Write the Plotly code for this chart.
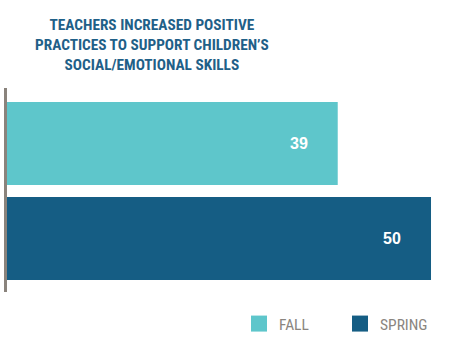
import plotly.graph_objects as go

categories = ["FALL", "SPRING"]
values = [39, 50]
colors = ["#5ec6cb", "#155d84"]
title_lines = ["TEACHERS INCREASED POSITIVE", "PRACTICES TO SUPPORT CHILDREN’S", "SOCIAL/EMOTIONAL SKILLS"]

fig = go.Figure()
for cat, val, col in zip(categories, values, colors):
    fig.add_trace(go.Bar(
        y=[cat], x=[val], orientation="h", marker=dict(color=col, line=dict(width=0)),
        width=0.874, showlegend=False, hoverinfo="skip"))
    fig.add_trace(go.Scatter(
        x=[None], y=[None], mode="markers", name=cat,
        marker=dict(symbol="square", size=16, color=col)))
    fig.add_annotation(x=val, y=cat, text=f"<b>{val}</b>", showarrow=False,
                       xanchor="right", xshift=-28,
                       font=dict(family="Liberation Sans, Arial", size=16, color="white"))

fig.add_annotation(x=0.335, y=1.365, xref="paper", yref="paper", xanchor="center", yanchor="top",
                   text="<b>" + "<br>".join(title_lines) + "</b>", showarrow=False, align="center",
                   font=dict(family="Roboto Condensed, sans-serif", size=15.3, color="#1f6088"))

fig.update_layout(
    width=450, height=345,
    margin=dict(l=7, r=10, t=88, b=53),
    paper_bgcolor="white", plot_bgcolor="white",
    barmode="overlay",
    xaxis=dict(range=[0, 51.06], visible=False, fixedrange=True),
    yaxis=dict(categoryorder="array", categoryarray=categories, range=[1.563, -0.584],
               showticklabels=False, showgrid=False, zeroline=False,
               showline=True, linecolor="#8a837c", linewidth=3, ticks=""),
    legend=dict(orientation="h", xref="container", yref="container",
                x=239/450, y=1 - 307/345, xanchor="left", yanchor="top",
                entrywidth=56, itemsizing="trace",
                font=dict(family="Roboto Condensed, sans-serif", size=15.5, color="#8a8580")),
    showlegend=True,
)
fig.write_html("out.html")
